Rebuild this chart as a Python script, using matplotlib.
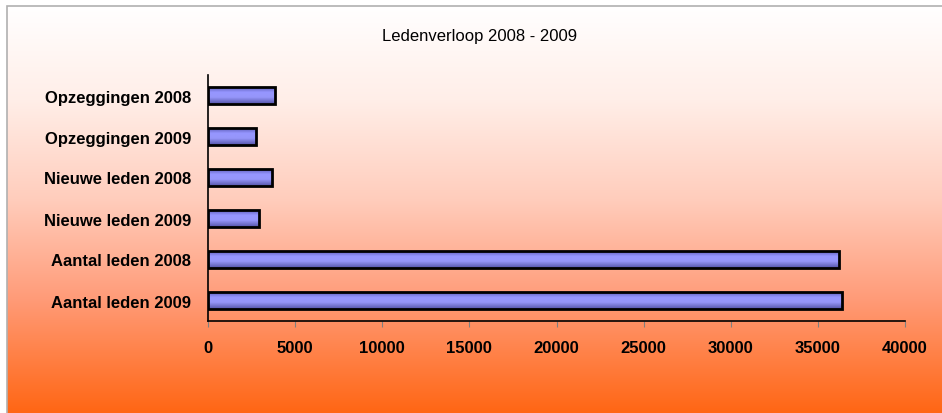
import numpy as np
import matplotlib
matplotlib.use("Agg")
import matplotlib.pyplot as plt
from matplotlib.patches import Rectangle

categories = ["Opzeggingen 2008", "Opzeggingen 2009", "Nieuwe leden 2008",
              "Nieuwe leden 2009", "Aantal leden 2008", "Aantal leden 2009"]
values = [3850, 2750, 3700, 2900, 36200, 36400]
xticks = [0, 5000, 10000, 15000, 20000, 25000, 30000, 35000, 40000]
title = "Ledenverloop 2008 - 2009"

plt.rcParams['font.family'] = ['Liberation Sans', 'DejaVu Sans']

W, H = 942, 414
fig = plt.figure(figsize=(W / 100, H / 100), dpi=100)
fig.patch.set_facecolor('white')

# background gradient panel
bg = fig.add_axes([7 / W, 0, 1 - 7 / W, 1 - 7 / H])
bg.set_axis_off()
stops = np.array([0.0, 0.23, 0.475, 0.72, 1.0])
cols = np.array([[255, 255, 255], [255, 238, 232], [255, 205, 188],
                 [255, 155, 120], [255, 102, 20]]) / 255.0
t = np.linspace(0, 1, 400)
grad = np.stack([np.interp(t, stops, cols[:, i]) for i in range(3)], axis=1)
bg.imshow(grad[:, None, :], aspect='auto', extent=[0, 1, 0, 1], origin='upper')
bg.set_xlim(0, 1)
bg.set_ylim(0, 1)
fig.patches.append(Rectangle((7 / W, -0.01), 1.0, 1 - 7 / H + 0.01,
                             transform=fig.transFigure, fill=False,
                             edgecolor='#b0b0b0', linewidth=1.2, zorder=5))

ax = fig.add_axes([208 / W, 1 - 322 / H, (905 - 208) / W, (322 - 76) / H])
ax.patch.set_alpha(0)

pos = np.arange(len(categories))[::-1]
bars = ax.barh(pos, values, height=0.4, facecolor='none',
               edgecolor='black', linewidth=2.0, zorder=3)

bstops = np.array([0.0, 0.3, 0.6, 1.0])
bcols = np.array([[95, 95, 185], [150, 150, 255], [150, 150, 250],
                  [85, 85, 170]]) / 255.0
tb = np.linspace(0, 1, 50)
bgrad = np.stack([np.interp(tb, bstops, bcols[:, i]) for i in range(3)], axis=1)
for b in bars:
    x0, y0 = b.get_x(), b.get_y()
    w, h = b.get_width(), b.get_height()
    im = ax.imshow(bgrad[:, None, :], aspect='auto',
                   extent=[x0, x0 + w, y0, y0 + h], origin='upper', zorder=2)
    im.set_clip_path(b)

ax.set_xlim(0, 40000)
ax.set_ylim(-0.5, len(categories) - 0.5)
ax.set_yticks(pos)
ax.set_yticklabels(categories, fontsize=12, fontweight='bold')
ax.set_xticks(xticks)
ax.set_xticklabels([str(v) for v in xticks], fontsize=12, fontweight='bold')
ax.tick_params(axis='y', length=0, pad=12)
ax.tick_params(axis='x', length=4, color='#808080', direction='out', pad=10)
for s in ['top', 'right']:
    ax.spines[s].set_visible(False)
for s in ['left', 'bottom']:
    ax.spines[s].set_color('black')
    ax.spines[s].set_linewidth(1.2)

fig.text(480 / W, 1 - 37 / H, title, fontsize=12, ha='center', va='center')

fig.savefig("out.png", dpi=100)
